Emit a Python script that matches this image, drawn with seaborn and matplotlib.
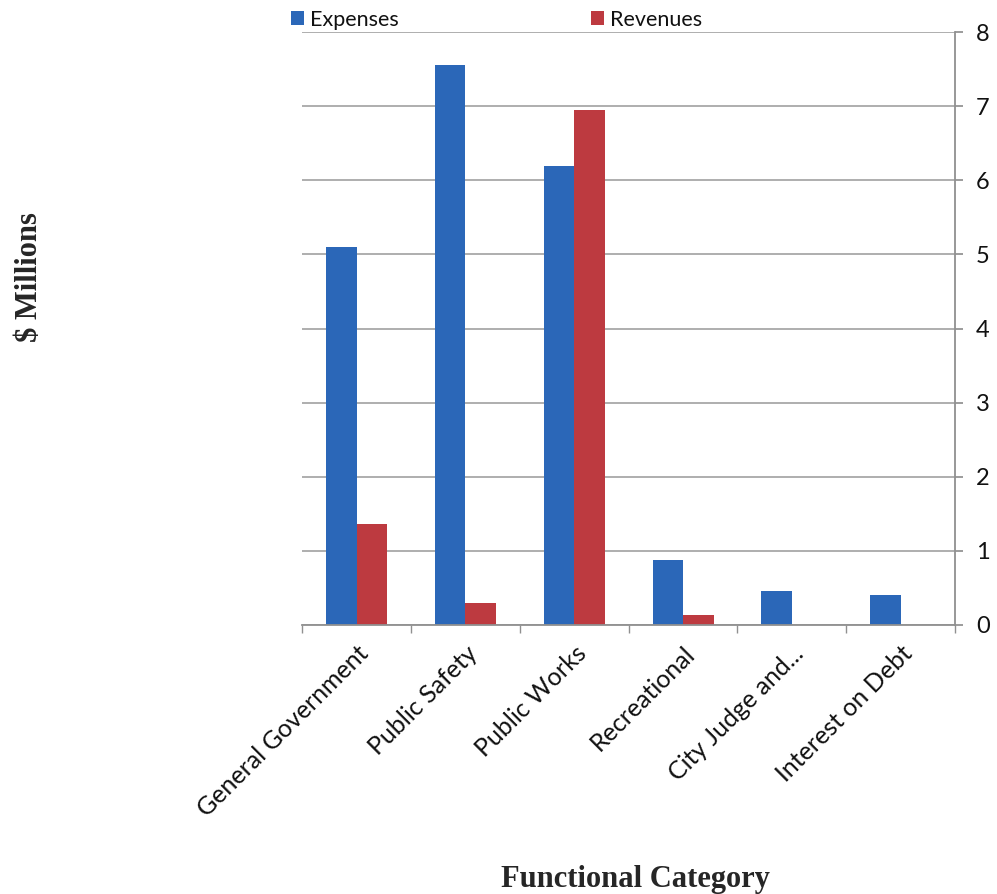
import matplotlib
matplotlib.use("Agg")
import matplotlib.pyplot as plt
import seaborn as sns
import pandas as pd

categories = ["General Government", "Public Safety", "Public Works",
              "Recreational", "City Judge and...", "Interest on Debt"]
expenses = [5.1, 7.56, 6.2, 0.88, 0.46, 0.41]
revenues = [1.36, 0.3, 6.95, 0.13, 0.0, 0.0]
series = ["Expenses", "Revenues"]
yticks = [0, 1, 2, 3, 4, 5, 6, 7, 8]

df = pd.DataFrame({
    "Category": categories * 2,
    "Series": [series[0]] * len(categories) + [series[1]] * len(categories),
    "Value": expenses + revenues,
})

sns.set_theme(style="white")
plt.rcParams['font.family'] = ['Lato', 'DejaVu Sans']

fig = plt.figure(figsize=(9.97, 8.94), dpi=100)
ax = fig.add_axes([0.303, 0.301, 0.655, 0.663])

palette = {"Expenses": "#2b67b8", "Revenues": "#bd3a40"}
sns.barplot(data=df, x="Category", y="Value", hue="Series", order=categories,
            hue_order=series, palette=palette, width=0.56, saturation=1,
            edgecolor="none", ax=ax, legend=True)

ax.set_ylim(0, 8)
ax.set_xlim(-0.5, len(categories) - 0.5)
ax.set_yticks(yticks)
ax.yaxis.tick_right()
ax.yaxis.grid(True, color="#a8a8a8", linewidth=1.3)
ax.set_axisbelow(True)
for s in ["top", "left"]:
    ax.spines[s].set_visible(False)
ax.spines["right"].set_color("#909090")
ax.spines["bottom"].set_color("#909090")
ax.spines["right"].set_linewidth(1.3)
ax.spines["bottom"].set_linewidth(1.3)
ax.tick_params(axis="y", which="both", right=True, length=6, color="#909090",
               labelsize=17, pad=9, labelcolor="#111111")
ax.set_xticks([i - 0.5 for i in range(len(categories) + 1)], minor=True)
ax.tick_params(axis="x", which="minor", bottom=True, length=6, color="#909090")
ax.tick_params(axis="x", which="major", bottom=False, labelsize=18, pad=6,
               labelcolor="#111111")
ax.set_xticks(range(len(categories)))
ax.set_xticklabels(categories, rotation=45, ha="right", rotation_mode="anchor")
ax.set_xlabel("")
ax.set_ylabel("")

leg = ax.legend(loc="lower left", bbox_to_anchor=(-0.03, 0.99), ncol=2, frameon=False,
                fontsize=15.5, handlelength=0.6, handleheight=0.6, handletextpad=0.3,
                columnspacing=8.9, borderaxespad=0)
for t in leg.get_texts():
    t.set_color("#111111")

fig.text(0.030, 0.69, "$ Millions", rotation=90, ha="center", va="center",
         fontsize=22, fontweight="bold", family=["Liberation Serif", "DejaVu Serif"])
fig.text(0.637, 0.0, "Functional Category", ha="center", va="bottom",
         fontsize=22, fontweight="bold", family=["Liberation Serif", "DejaVu Serif"])

fig.savefig("out.png", dpi=100, facecolor="white")
